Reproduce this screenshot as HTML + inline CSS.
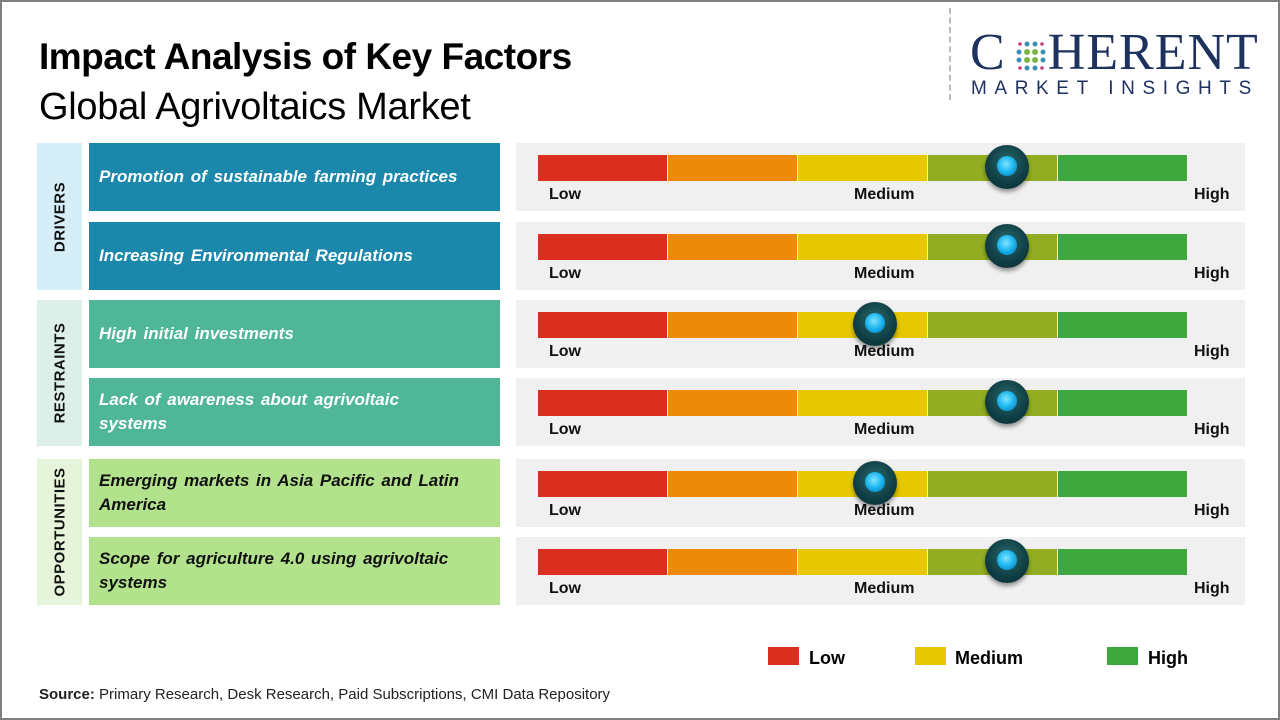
<!DOCTYPE html>
<html><head><meta charset="utf-8"><style>
*{margin:0;padding:0;box-sizing:border-box}
body{width:1280px;height:720px;background:#fff;position:relative;overflow:hidden;font-family:"Liberation Sans",sans-serif}
.frame{position:absolute;left:0;top:0;width:1280px;height:720px;border:2px solid #808080}
.a{position:absolute}
.strip{position:absolute;left:37px;width:45px}
.strip span{position:absolute;left:50%;top:50%;transform:translate(-50%,-50%) rotate(-90deg);font-weight:bold;font-size:15px;letter-spacing:0.5px;white-space:nowrap;color:#111}
.box{position:absolute;left:89px;width:411px;height:68px;padding:0 10px;display:flex;align-items:center;font-style:italic;font-weight:bold;font-size:17px;line-height:24px;word-spacing:2px}
.panel{position:absolute;left:516px;width:729px;height:68px;background:#f0f0f0}
.seg{position:absolute;top:12px;height:26px;width:129px}
.lbl{position:absolute;top:43px;font-weight:bold;font-size:16px;color:#111}
.knob{position:absolute;top:2px;width:44px;height:44px;border-radius:50%;background:radial-gradient(circle at 50% 40%,#2a6a6a 0,#0f3d44 60%,#0a2a30 100%);box-shadow:0 3px 4px rgba(0,0,0,.4)}
.knob:after{content:"";position:absolute;left:12px;top:11px;width:20px;height:20px;border-radius:50%;background:radial-gradient(circle at 45% 40%,#7fe4ff 0,#19b4ef 50%,#0a6fa8 100%)}
</style></head><body>
<div class="frame"></div>
<div class="a" style="left:39px;top:36px;font-size:37px;font-weight:bold;letter-spacing:-0.5px">Impact Analysis of Key Factors</div>
<div class="a" style="left:39px;top:86px;font-size:38px;letter-spacing:-0.3px">Global Agrivoltaics Market</div>
<div class="a" style="left:949px;top:8px;height:92px;border-left:2px dashed #bbb"></div>
<div class="a" style="left:970px;top:27px;font-family:'Liberation Serif',serif;font-size:52px;color:#1e3260;line-height:52px;letter-spacing:1px">C<span style="display:inline-block;width:42px"></span>HERENT</div>
<svg class="a" style="left:1011px;top:38px" width="40" height="36" viewBox="0 0 40 36">
<g fill="#7cb342"><circle cx="16" cy="14" r="3"/><circle cx="24" cy="14" r="3"/><circle cx="16" cy="22" r="3"/><circle cx="24" cy="22" r="3"/></g>
<g fill="#3a8fb7"><circle cx="8" cy="14" r="2.5"/><circle cx="32" cy="14" r="2.5"/><circle cx="8" cy="22" r="2.5"/><circle cx="32" cy="22" r="2.5"/><circle cx="16" cy="6" r="2.5"/><circle cx="24" cy="6" r="2.5"/><circle cx="16" cy="30" r="2.5"/><circle cx="24" cy="30" r="2.5"/></g>
<g fill="#c0407a"><circle cx="9" cy="6" r="1.8"/><circle cx="31" cy="6" r="1.8"/><circle cx="9" cy="30" r="1.8"/><circle cx="31" cy="30" r="1.8"/></g></svg>
<div class="a" style="left:971px;top:78px;font-size:19px;letter-spacing:7.6px;color:#1e3260">MARKET INSIGHTS</div>

<div class="strip" style="top:143px;height:147px;background:#d5eef8"><span>DRIVERS</span></div>
<div class="strip" style="top:300px;height:146px;background:#dcefe9"><span>RESTRAINTS</span></div>
<div class="strip" style="top:459px;height:146px;background:#e6f5da"><span>OPPORTUNITIES</span></div>

<div class="box" style="top:143px;background:#1a87ab;color:#fff">Promotion of sustainable farming practices</div>
<div class="box" style="top:222px;background:#1a87ab;color:#fff">Increasing Environmental Regulations</div>
<div class="box" style="top:300px;background:#50b698;color:#fff">High initial investments</div>
<div class="box" style="top:378px;background:#50b698;color:#fff">Lack of awareness about agrivoltaic<br>systems</div>
<div class="box" style="top:459px;background:#b3e28d;color:#111">Emerging markets in Asia Pacific and Latin<br>America</div>
<div class="box" style="top:537px;background:#b3e28d;color:#111">Scope for agriculture 4.0 using agrivoltaic<br>systems</div>

<div id="panels"></div>
<script>
var rows=[[143,1007],[222,1007],[300,875],[378,1007],[459,875],[537,1007]];
var cols=["#dc2e1e","#ee8a0a","#e5c800","#93ad22","#3ea83f"];
var h="";
rows.forEach(function(r){
 h+='<div class="panel" style="top:'+r[0]+'px">';
 for(var i=0;i<5;i++)h+='<div class="seg" style="left:'+(22+i*130)+'px;background:'+cols[i]+'"></div>';
 h+='<div class="lbl" style="left:33px">Low</div><div class="lbl" style="left:338px">Medium</div><div class="lbl" style="left:678px">High</div>';
 h+='<div class="knob" style="left:'+(r[1]-516-22)+'px"></div></div>';
});
document.getElementById("panels").innerHTML=h;
</script>

<div class="a" style="left:768px;top:647px;width:31px;height:18px;background:#dc2e1e"></div>
<div class="a" style="left:809px;top:648px;font-weight:bold;font-size:18px">Low</div>
<div class="a" style="left:915px;top:647px;width:31px;height:18px;background:#e5c800"></div>
<div class="a" style="left:955px;top:648px;font-weight:bold;font-size:18px">Medium</div>
<div class="a" style="left:1107px;top:647px;width:31px;height:18px;background:#3ea83f"></div>
<div class="a" style="left:1148px;top:648px;font-weight:bold;font-size:18px">High</div>

<div class="a" style="left:39px;top:686px;font-size:15px;color:#222"><b>Source:</b> Primary Research, Desk Research, Paid Subscriptions, CMI Data Repository</div>
</body></html>
